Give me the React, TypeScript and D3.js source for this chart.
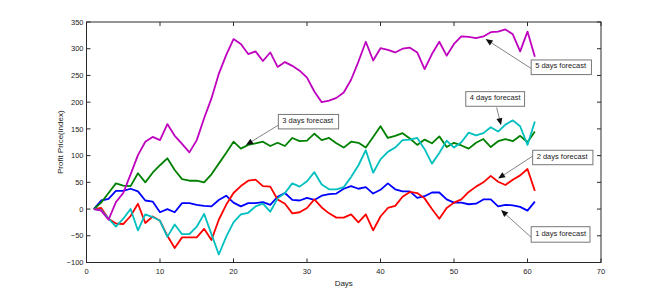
import React from "react";
import * as d3 from "d3";

// days 1..61
const days = d3.range(1, 62);

const oneDay = [
  0, 16, 19, 34, 34, 38, 33, 16, 14, -6, 0, -6, 11, 11, 8, 6, 5, 17, 25, 12,
  5, 11, 11, 13, 8, 23, 30, 17, 16, 21, 17, 25, 28, 29, 38, 43, 38, 41, 29, 36,
  48, 37, 33, 33, 21, 24, 31, 31, 18, 12, 12, 9, 10, 18, 18, 5, 8, 7, 4, -3, 14,
];
const twoDays = [
  0, 2, -18, -27, -28, -13, 10, -26, -14, -22, -50, -73, -53, -53, -53, -37, -58, -20, 8, 30,
  43, 53, 55, 43, 42, 18, 10, -8, -6, 2, 18, 3, -8, -16, -16, -10, -25, -10, -40, -14,
  2, 6, 23, 32, 30, 20, 0, -18, 2, 12, 18, 32, 42, 50, 62, 51, 45, 55, 63, 75, 34,
];
const threeDays = [
  0, 12, 30, 48, 44, 43, 67, 50, 68, 82, 95, 73, 56, 53, 53, 50, 65, 85, 105, 126,
  113, 120, 123, 126, 118, 124, 118, 133, 127, 128, 141, 129, 133, 123, 115, 126, 124, 115, 135, 155,
  133, 137, 142, 132, 120, 130, 123, 136, 116, 124, 119, 113, 124, 131, 116, 127, 131, 127, 137, 125, 145,
];
const fourDays = [
  0, -2, -18, -33, -18, 0, -40, -10, -15, -22, -52, -29, -47, -47, -33, -9, -47, -85, -52, -25,
  -10, -7, 5, 10, -5, 20, 30, 48, 42, 52, 69, 46, 37, 37, 41, 60, 82, 110, 68, 93,
  107, 115, 129, 130, 133, 112, 85, 105, 128, 115, 125, 143, 138, 142, 153, 145, 158, 166, 155, 120, 164,
];
const fiveDays = [
  0, -3, -20, 13, 30, 65, 101, 126, 135, 129, 159, 137, 122, 106, 129, 170, 207, 253, 288, 318,
  309, 290, 295, 277, 293, 266, 275, 268, 259, 246, 220, 200, 203, 208, 218, 242, 276, 313, 278, 301,
  298, 293, 300, 302, 293, 262, 290, 313, 287, 309, 323, 322, 320, 323, 331, 332, 336, 327, 295, 332, 285,
];

const series = [
  { name: "1 days forecast", values: oneDay, color: "#0000ff" },
  { name: "2 days forecast", values: twoDays, color: "#ff0000" },
  { name: "3 days forecast", values: threeDays, color: "#008000" },
  { name: "4 days forecast", values: fourDays, color: "#00bfbf" },
  { name: "5 days forecast", values: fiveDays, color: "#bf00bf" },
];

const xTicks = [0, 10, 20, 30, 40, 50, 60, 70];
const yTicks = [-100, -50, 0, 50, 100, 150, 200, 250, 300, 350];

// text boxes (data units): box left/top/right/bottom, arrow from -> to
const annotations = [
  { label: "5 days forecast", box: [60.5, 279, 68.7, 251.6], from: [60.5, 263], to: [54.3, 318] },
  { label: "4 days forecast", box: [51.6, 219.7, 59.6, 192.3], from: [55.8, 190], to: [56.4, 157] },
  { label: "3 days forecast", box: [26.1, 177, 34.3, 150], from: [26.1, 157], to: [21.7, 120] },
  { label: "2 days forecast", box: [60.7, 110, 68.9, 83], from: [60.7, 99], to: [56, 57] },
  { label: "1 days forecast", box: [60.5, -33, 68.5, -62], from: [60.5, -53], to: [56.4, -2] },
];

export default function App() {
  const width = 664;
  const height = 295;
  const margin = { top: 22, right: 63, bottom: 32.5, left: 86.5 };
  const innerW = width - margin.left - margin.right;
  const innerH = height - margin.top - margin.bottom;

  const x = d3.scaleLinear().domain([0, 70]).range([0, innerW]);
  const y = d3.scaleLinear().domain([-100, 350]).range([innerH, 0]);

  const line = d3
    .line<number>()
    .x((_, i) => x(days[i]))
    .y((d) => y(d));

  const font = "'Liberation Sans', Arial, sans-serif";
  const tickLen = 4;

  return (
    <svg
      width={width}
      height={height}
      style={{ position: "absolute", left: 0, top: 0, background: "#fff" }}
      fontFamily={font}
    >
      <g transform={`translate(${margin.left},${margin.top})`}>
        {/* series */}
        {series.map((s) => (
          <path
            key={s.name}
            d={line(s.values) || ""}
            fill="none"
            stroke={s.color}
            strokeWidth={1.8}
            strokeLinejoin="round"
          />
        ))}

        {/* frame */}
        <rect x={0} y={0} width={innerW} height={innerH} fill="none" stroke="#2a2a2a" strokeWidth={1} />

        {/* x ticks */}
        {xTicks.map((t) => (
          <g key={`x${t}`}>
            <line x1={x(t)} x2={x(t)} y1={innerH} y2={innerH - tickLen} stroke="#2a2a2a" />
            <line x1={x(t)} x2={x(t)} y1={0} y2={tickLen} stroke="#2a2a2a" />
            <text x={x(t)} y={innerH + 11} textAnchor="middle" fontSize={7.5} fill="#222">
              {t}
            </text>
          </g>
        ))}

        {/* y ticks */}
        {yTicks.map((t) => (
          <g key={`y${t}`}>
            <line x1={0} x2={tickLen} y1={y(t)} y2={y(t)} stroke="#2a2a2a" />
            <line x1={innerW} x2={innerW - tickLen} y1={y(t)} y2={y(t)} stroke="#2a2a2a" />
            <text x={-3} y={y(t)} dy="0.35em" textAnchor="end" fontSize={7.5} fill="#222">
              {t < 0 ? `\u2212${-t}` : t}
            </text>
          </g>
        ))}

        <text x={innerW / 2} y={innerH + 23} textAnchor="middle" fontSize={8} fill="#222">
          Days
        </text>
        <text
          transform={`translate(${-24},${innerH / 2}) rotate(-90)`}
          textAnchor="middle"
          fontSize={8}
          fill="#222"
        >
          Profit Price(index)
        </text>

        {/* annotations */}
        {annotations.map((a) => {
          const [bx0, by0, bx1, by1] = a.box;
          const fx = x(a.from[0]);
          const fy = y(a.from[1]);
          const tx = x(a.to[0]);
          const ty = y(a.to[1]);
          const ang = Math.atan2(ty - fy, tx - fx);
          const hl = 7;
          const hw = 3;
          const bxp = tx - hl * Math.cos(ang);
          const byp = ty - hl * Math.sin(ang);
          const head = [
            [tx, ty],
            [bxp + hw * Math.sin(ang), byp - hw * Math.cos(ang)],
            [bxp - hw * Math.sin(ang), byp + hw * Math.cos(ang)],
          ]
            .map((p) => p.join(","))
            .join(" ");
          return (
            <g key={a.label}>
              <line x1={fx} y1={fy} x2={bxp} y2={byp} stroke="#666" strokeWidth={0.8} />
              <polygon points={head} fill="#111" />
              <rect
                x={x(bx0)}
                y={y(by0)}
                width={x(bx1) - x(bx0)}
                height={y(by1) - y(by0)}
                fill="#fff"
                stroke="#777"
                strokeWidth={1}
              />
              <text
                x={x(bx0) + 4}
                y={(y(by0) + y(by1)) / 2 - 1.5}
                dy="0.35em"
                fontSize={7.5}
                fill="#222"
              >
                {a.label}
              </text>
            </g>
          );
        })}
      </g>
    </svg>
  );
}
